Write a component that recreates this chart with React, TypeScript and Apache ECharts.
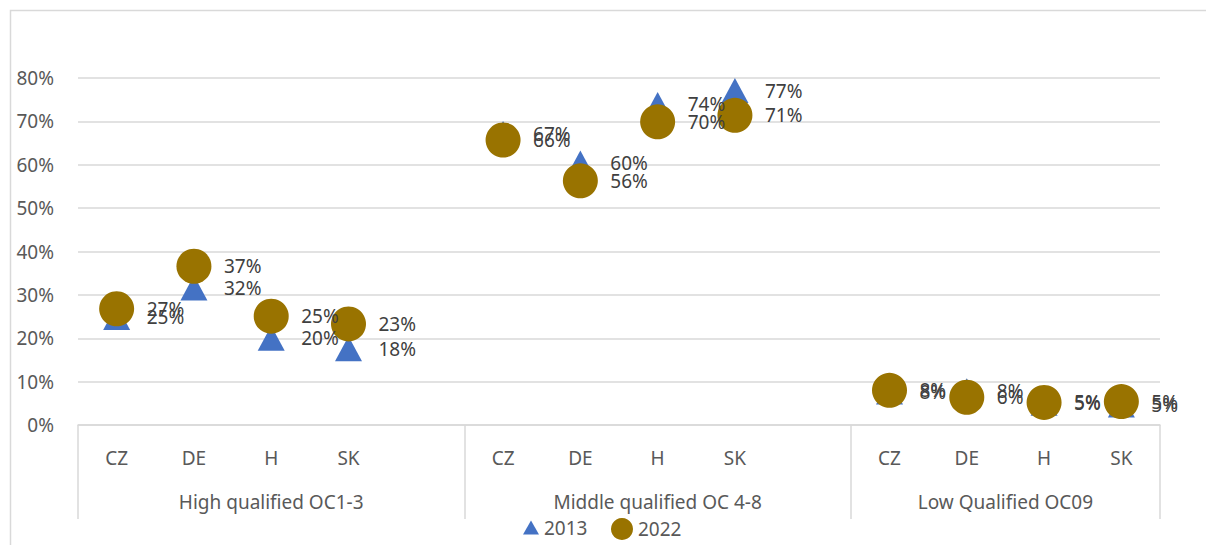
import React, { useEffect, useRef } from "react";
import * as echarts from "echarts";

const categories = ["CZ", "DE", "H", "SK", "", "CZ", "DE", "H", "SK", "", "CZ", "DE", "H", "SK"];
const groups = [
  { name: "High qualified OC1-3", at: 2.5 },
  { name: "Middle qualified OC 4-8", at: 7.5 },
  { name: "Low Qualified OC09", at: 12 },
];
const values2013: (number | string)[] = [24.8, 31.6, 20.0, 17.6, "-", 67.2, 60.4, 73.9, 77.1, "-", 7.6, 7.9, 5.0, 4.6];
const values2022: (number | string)[] = [26.8, 36.6, 25.1, 23.3, "-", 65.7, 56.3, 69.9, 71.4, "-", 8.0, 6.4, 5.2, 5.4];
const yTicks = { min: 0, max: 80, interval: 10 };

const FONT = "Noto Sans";
const GRID = "#d9d9d9";
const AXIS_TXT = "#595959";
const LABEL_TXT = "#404040";

export default function App() {
  const ref = useRef<HTMLDivElement>(null);
  useEffect(() => {
    if (!ref.current) return;
    const chart = echarts.init(ref.current, null, { renderer: "svg" });
    const groupAt: Record<string, string> = {};
    groups.forEach((g) => (groupAt[String(g.at)] = g.name));
    const lbl = (v: any) => Math.round(v.value) + "%";
    chart.setOption({
      animation: false,
      textStyle: { fontFamily: FONT },
      grid: { left: 78, right: 46, top: 78, bottom: 120, outerBoundsMode: "none" },
      legend: [
        {
          data: [{ name: "2013", icon: "triangle" }],
          left: 523,
          top: 518,
          padding: 0,
          itemWidth: 16,
          itemHeight: 14,
          textStyle: { fontSize: 19, color: AXIS_TXT, fontFamily: FONT },
        },
        {
          data: [{ name: "2022", icon: "circle" }],
          left: 611,
          top: 518,
          padding: 0,
          itemWidth: 22,
          itemHeight: 22,
          textStyle: { fontSize: 19, color: AXIS_TXT, fontFamily: FONT },
        },
      ],
      xAxis: [
        {
          type: "category",
          data: categories,
          position: "bottom",
          axisLine: { show: true, lineStyle: { color: GRID, width: 1.5 } },
          axisTick: {
            show: true,
            length: 94,
            lineStyle: { color: GRID, width: 1.5 },
            interval: (i: number) => i === 0 || i === 5 || i === 10,
          },
          axisLabel: { interval: 0, fontSize: 19, color: AXIS_TXT, margin: 23, fontFamily: FONT },
          splitLine: { show: false },
        },
        {
          type: "value",
          min: 0,
          max: categories.length,
          interval: 0.5,
          position: "bottom",
          axisLine: { show: false },
          axisTick: { show: false },
          splitLine: { show: false },
          axisLabel: {
            fontSize: 19,
            color: AXIS_TXT,
            margin: 67,
            fontFamily: FONT,
            showMinLabel: true,
            showMaxLabel: true,
            formatter: (v: number) => groupAt[String(v)] || "",
          },
        },
      ],
      yAxis: {
        type: "value",
        min: yTicks.min,
        max: yTicks.max,
        interval: yTicks.interval,
        axisLine: { show: false },
        axisTick: { show: false },
        splitLine: { lineStyle: { color: GRID, width: 1.5 } },
        axisLabel: { formatter: "{value}%", fontSize: 19, color: AXIS_TXT, margin: 24, fontFamily: FONT },
      },
      series: [
        {
          name: "2013",
          type: "scatter",
          xAxisIndex: 0,
          symbol: "triangle",
          symbolSize: [27, 25],
          itemStyle: { color: "#4472C4", opacity: 1 },
          data: values2013,
          label: {
            show: true,
            position: "right",
            distance: 16.5,
            formatter: lbl,
            fontSize: 19,
            color: LABEL_TXT,
            fontFamily: FONT,
          },
        },
        {
          name: "2022",
          type: "scatter",
          xAxisIndex: 0,
          symbol: "circle",
          symbolSize: 35,
          itemStyle: { color: "#997300", opacity: 1 },
          data: values2022,
          label: {
            show: true,
            position: "right",
            distance: 12.5,
            formatter: lbl,
            fontSize: 19,
            color: LABEL_TXT,
            fontFamily: FONT,
          },
        },
      ],
      graphic: [
        {
          type: "rect",
          shape: { x: 10.5, y: 10.5, width: 1400, height: 700 },
          style: { fill: "none", stroke: GRID, lineWidth: 1.5 },
          silent: true,
          z: -10,
        },
      ],
    });
    return () => chart.dispose();
  }, []);
  return (
    <div
      ref={ref}
      style={{ position: "fixed", left: 0, top: 0, width: 1206, height: 545, background: "#fff" }}
    />
  );
}
